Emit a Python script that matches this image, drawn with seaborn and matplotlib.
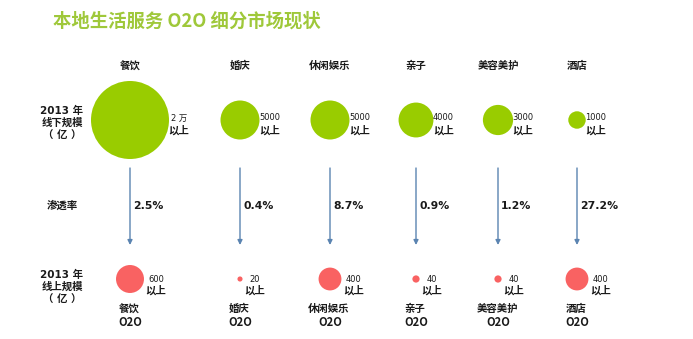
import matplotlib
matplotlib.use("Agg")
import matplotlib.pyplot as plt
import seaborn as sns
import pandas as pd
import math

# ---- data ----
categories = ["餐饮", "婚庆", "休闲娱乐", "亲子", "美容美护", "酒店"]
offline_values = [20000, 5000, 5000, 4000, 3000, 1000]      # 2013 线下规模（亿）
offline_labels = ["2 万", "5000", "5000", "4000", "3000", "1000"]
penetration = ["2.5%", "0.4%", "8.7%", "0.9%", "1.2%", "27.2%"]
online_values = [600, 20, 400, 40, 40, 400]                   # 2013 线上规模（亿）
online_labels = ["600", "20", "400", "40", "40", "400"]

# ---- layout (pixel-like coordinates of the infographic) ----
col_x = [130, 240, 330, 416, 498, 577]
W, H = 693, 339
top_y, bot_y = 120, 279

sns.set_theme(style="white")
plt.rcParams['font.family'] = ['Noto Sans CJK SC', 'DejaVu Sans']
NUMFONT = ['DejaVu Sans', 'Noto Sans CJK SC']

fig = plt.figure(figsize=(W / 100, H / 100), dpi=100)
ax = fig.add_axes([0, 0, 1, 1])

GREEN = "#99cc00"
RED = "#f96262"
ARROW = "#5b84b1"
INK = "#1a1a1a"

df_top = pd.DataFrame({"x": col_x, "y": [top_y] * 6, "v": offline_values})
df_bot = pd.DataFrame({"x": col_x, "y": [bot_y] * 6, "v": online_values})

sns.scatterplot(data=df_top, x="x", y="y", size="v", sizes=(0, 3154),
                size_norm=(0, 20000), color=GREEN, linewidth=0,
                legend=False, ax=ax)
sns.scatterplot(data=df_bot, x="x", y="y", size="v", sizes=(0, 406),
                size_norm=(0, 600), color=RED, linewidth=0,
                legend=False, ax=ax)
ax.set_xlim(0, W)
ax.set_ylim(H, 0)
ax.axis("off")

# title
ax.text(53, 21, "本地生活服务 O2O 细分市场现状", color="#9fc83a",
        fontsize=13.2, fontweight="bold", ha="left", va="center")

# row labels
ax.text(62, 123, "2013 年\n线下规模\n（ 亿 ）", fontsize=7.5, fontweight="bold",
        ha="center", va="center", linespacing=1.3, color=INK, family=NUMFONT)
ax.text(62, 206, "渗透率", fontsize=7.5, fontweight="bold",
        ha="center", va="center", color=INK)
ax.text(62, 287, "2013 年\n线上规模\n（ 亿 ）", fontsize=7.5, fontweight="bold",
        ha="center", va="center", linespacing=1.3, color=INK, family=NUMFONT)

for i, cat in enumerate(categories):
    x = col_x[i]
    # header
    ax.text(x, 66, cat, fontsize=7.5, fontweight="bold", ha="center",
            va="center", color=INK)
    # offline label
    r_top = 39 * math.sqrt(offline_values[i] / 20000)
    lx = x + r_top + 10
    ax.text(lx, 118, offline_labels[i], fontsize=6, ha="center", va="center",
            color=INK, family=NUMFONT)
    ax.text(lx, 130, "以上", fontsize=7.5, fontweight="bold", ha="center",
            va="center", color=INK)
    # arrow
    ax.annotate("", xy=(x, 245), xytext=(x, 168),
                arrowprops=dict(arrowstyle="-|>", color=ARROW, lw=1.0,
                                mutation_scale=7, shrinkA=0, shrinkB=0))
    # penetration
    ax.text(x + 3, 206, penetration[i], fontsize=7.8, fontweight="bold",
            ha="left", va="center", color=INK, family=NUMFONT)
    # online label
    r_bot = 14 * math.sqrt(online_values[i] / 600)
    bx = x + r_bot + 12
    ax.text(bx, 279, online_labels[i], fontsize=6, ha="center", va="center",
            color=INK, family=NUMFONT)
    ax.text(bx, 290, "以上", fontsize=7.5, fontweight="bold", ha="center",
            va="center", color=INK)
    # bottom category label
    ax.text(x - 1, 309, cat, fontsize=7.5, fontweight="bold", ha="center",
            va="center", color=INK)
    ax.text(x, 322, "O2O", fontsize=8, fontweight="bold", ha="center",
            va="center", color=INK)

fig.savefig("out.png", dpi=100, facecolor="white")
